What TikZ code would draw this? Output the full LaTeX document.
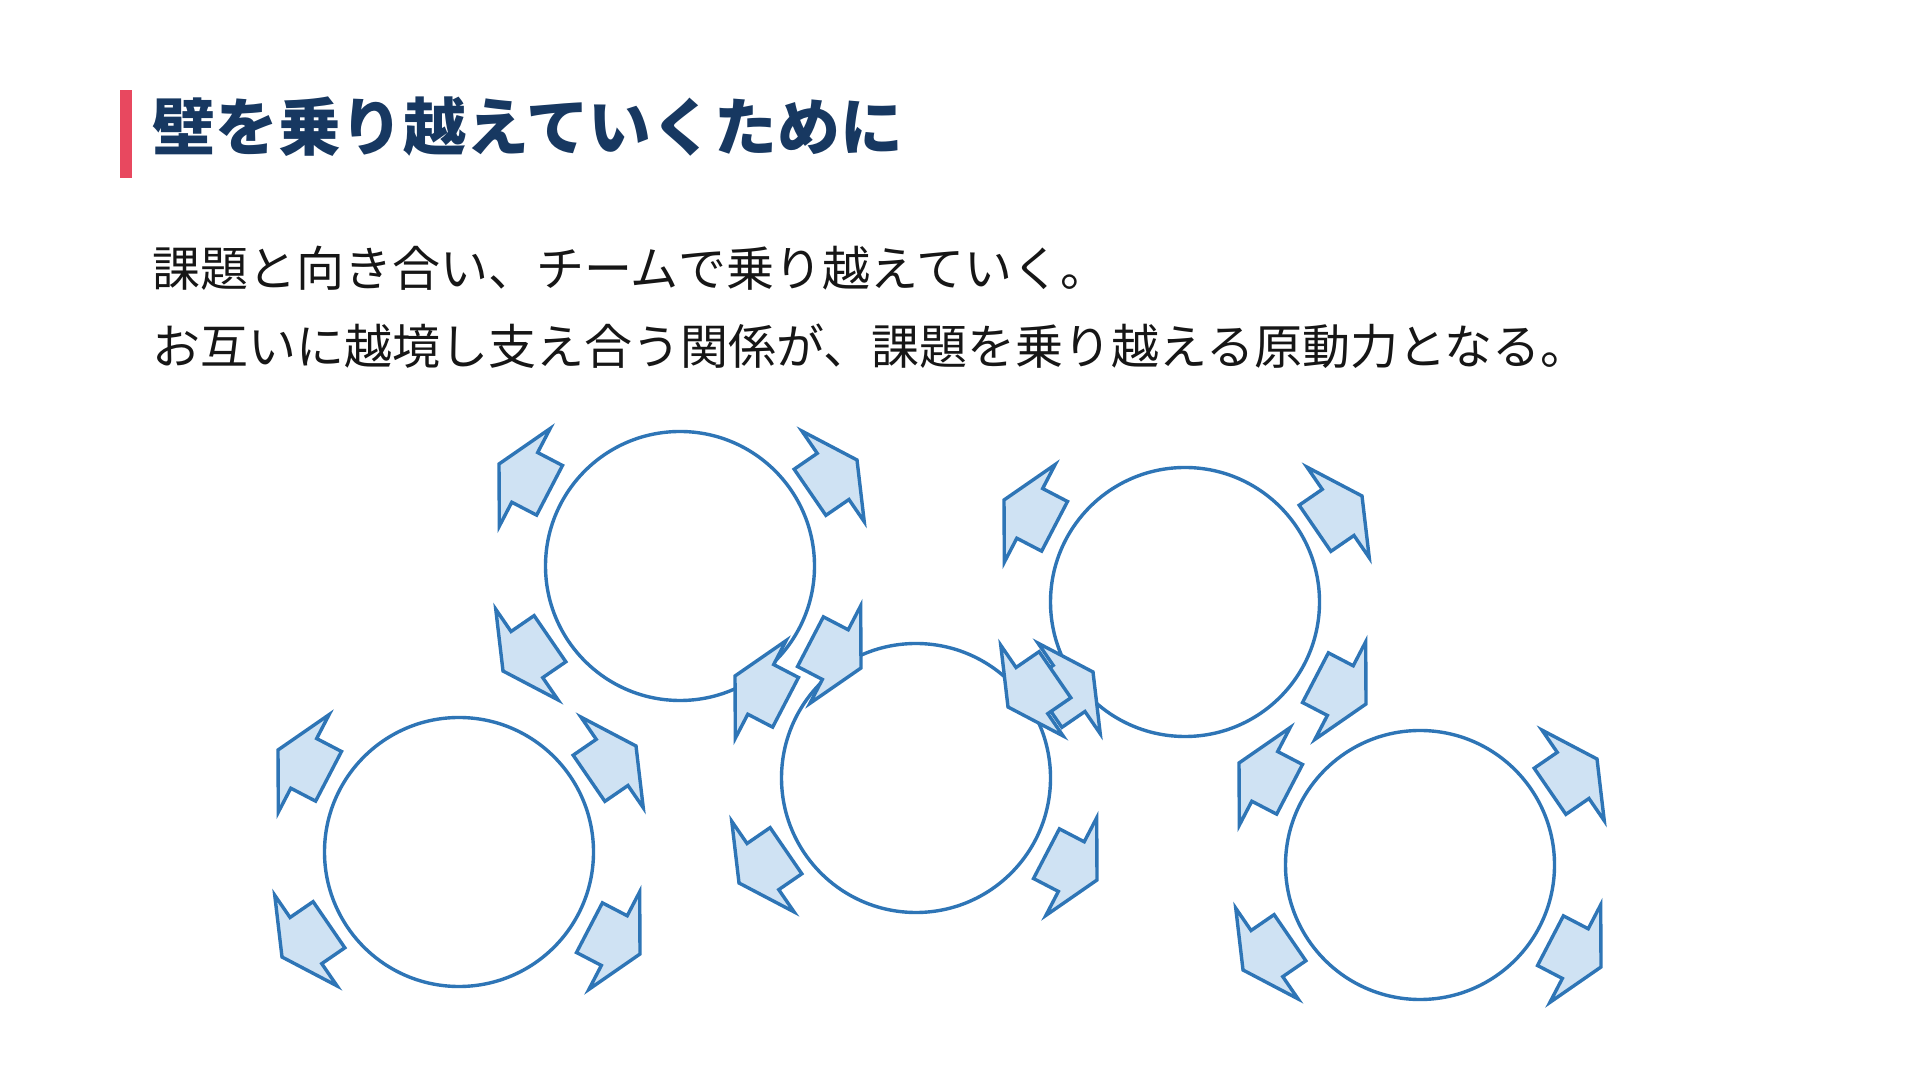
\documentclass[tikz,border=0pt]{standalone}
\usepackage{fontspec}
\setmainfont{Noto Sans CJK JP}
\usepackage{tikz}
\usetikzlibrary{
    calc,
    positioning,
    backgrounds
}
\definecolor{ink}{RGB}{22,22,22}
\definecolor{titleblue}{RGB}{23,56,97}
\definecolor{accentred}{RGB}{232,72,95}
\definecolor{ringline}{RGB}{46,117,182}
\definecolor{burstfill}{RGB}{207,226,243}
\tikzset{
    line cap=round,
    line join=miter,
    heading/.style={
        font=\fontsize{31.4pt}{36pt}\selectfont\bfseries,
        text=titleblue,
        inner sep=0pt
    },
    bodytext/.style={
        font=\fontsize{24pt}{30pt}\selectfont,
        text=ink,
        inner sep=0pt
    },
    ring/.style={
        circle,
        draw=ringline,
        line width=1.7pt,
        minimum size=134.5pt,
        inner sep=0pt
    },
    burst/.style={
        draw=ringline,
        fill=burstfill,
        line width=1.7pt
    }
}

\begin{document}
\begin{tikzpicture}[x=0.5pt, y=0.5pt]

\path[fill=white] (0,0) rectangle (1920,1080);
\useasboundingbox (0,0) rectangle (1920,1080);

% heading
\fill[accentred] (120,902) rectangle (132,990);
\node[heading, anchor=west] (title) at (152,953) {壁を乗り越えていくために};

\node[bodytext, anchor=west] (lineone) at (152,812) {課題と向き合い、チームで乗り越えていく。};
\node[bodytext, anchor=west] (linetwo) at (152,734) {お互いに越境し支え合う関係が、課題を乗り越える原動力となる。};

% five teams
\node[ring] (ringA) at (680,514) {};
\node[ring] (ringB) at (459,228) {};
\node[ring] (ringC) at (916,302) {};
\node[ring] (ringD) at (1185,478) {};
\node[ring] (ringE) at (1420,215) {};

\foreach \u in {A,B,C,D,E} {
    \foreach \tx/\ty/\ang in {-181/102/152.5, 177/106/34.5, -177/-105/214.5, 181/-102/332.5} {
        \path[burst, shift={(ring\u.center)}, shift={(\tx,\ty)}, rotate=\ang]
            (0,0) -- (-29,55) -- (-29,28) -- (-57,28) -- (-57,-28) -- (-29,-28) -- (-29,-55) -- cycle;
    }
}

\end{tikzpicture}
\end{document}
